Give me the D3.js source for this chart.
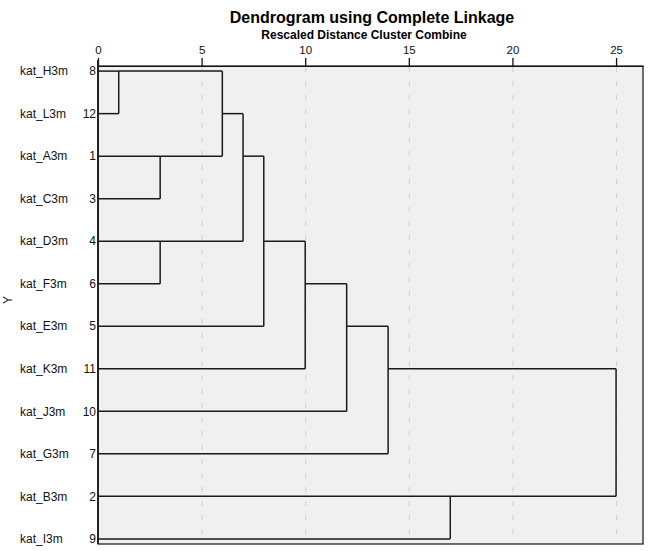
<!DOCTYPE html>
<html><head><meta charset="utf-8">
<script src="https://cdn.jsdelivr.net/npm/d3@7"></script>
<style>body{margin:0;background:#fff}text{font-family:Arial,"Liberation Sans",sans-serif}</style>
</head><body><svg id="c" width="651" height="551"></svg>
<script>
// leaf order (top to bottom)
const labels = ["kat_H3m","kat_L3m","kat_A3m","kat_C3m","kat_D3m","kat_F3m","kat_E3m","kat_K3m","kat_J3m","kat_G3m","kat_B3m","kat_I3m"];
const caseNums = ["8","12","1","3","4","6","5","11","10","7","2","9"];
// merges: [left node, right node, rescaled distance]; leaves are 0..11, merged nodes 12..
const mergeLeft  = [0, 2, 4, 12, 15, 16, 17, 18, 19, 10, 20];
const mergeRight = [1, 3, 5, 13, 14, 6, 7, 8, 9, 11, 21];
const mergeDist  = [1, 3, 3, 6, 7, 8, 10, 12, 14, 17, 25];
const ticks = [0,5,10,15,20,25];

const svg = d3.select("#c");
const L = 98, R = 643, T = 66, B = 544;
const x = d3.scaleLinear().domain([0, 26.3]).range([L, R]);
const y = d3.scalePoint().domain(d3.range(labels.length)).range([T, B]).padding(0.12);

svg.append("rect").attr("x", L).attr("y", T).attr("width", R - L).attr("height", B - T)
  .attr("fill", "#f0f0f0").attr("stroke", "#111").attr("stroke-width", 1.2);

// grid
svg.selectAll(".g").data(ticks.filter(t => t > 0)).join("line")
  .attr("x1", d => x(d) + 0.5).attr("x2", d => x(d) + 0.5).attr("y1", T + 1).attr("y2", B - 1)
  .attr("stroke", "#cfcfcf").attr("stroke-dasharray", "5,9");

// top axis
const ax = svg.append("g").attr("transform", `translate(0,${T})`)
  .call(d3.axisTop(x).tickValues(ticks).tickSize(8).tickSizeOuter(0));
ax.select(".domain").attr("stroke", "#111").attr("stroke-width", 1.2);
ax.selectAll(".tick line").attr("stroke", "#111").attr("stroke-width", 1.3);
ax.selectAll(".tick text").attr("font-size", 11.5).attr("fill", "#111").attr("dy", "-0.1em");

// left axis line (thicker)
svg.append("line").attr("x1", L).attr("x2", L).attr("y1", T - 6).attr("y2", B)
  .attr("stroke", "#222").attr("stroke-width", 2);

// compute node positions
const rowOf = labels.map((_, i) => i);
const distOf = labels.map(() => 0);
const lines = [];
mergeLeft.forEach((a, k) => {
  const b = mergeRight[k], d = mergeDist[k];
  [a, b].forEach(n => lines.push([[x(distOf[n]), y(rowOf[n])], [x(d), y(rowOf[n])]]));
  lines.push([[x(d), y(rowOf[a])], [x(d), y(rowOf[b])]]);
  rowOf.push(Math.floor((rowOf[a] + rowOf[b]) / 2));
  distOf.push(d);
});
svg.append("g").selectAll("path").data(lines).join("path")
  .attr("d", d => d3.line()(d)).attr("fill", "none")
  .attr("stroke", "#1a1a1a").attr("stroke-width", 1.5);

// labels
svg.selectAll(".lab").data(labels).join("text")
  .attr("x", 20).attr("y", (d, i) => y(i)).attr("dy", "0.35em")
  .attr("font-size", 12).attr("fill", "#111").text(d => d);
svg.selectAll(".num").data(caseNums).join("text")
  .attr("x", 96).attr("y", (d, i) => y(i)).attr("dy", "0.35em").attr("text-anchor", "end")
  .attr("font-size", 12).attr("fill", "#111").text(d => d);

svg.append("text").attr("transform", "translate(12,300) rotate(-90)").attr("text-anchor", "middle")
  .attr("font-size", 12).attr("fill", "#111").text("Y");

svg.append("text").attr("x", 372).attr("y", 23).attr("text-anchor", "middle")
  .attr("font-size", 16).attr("font-weight", "bold").attr("fill", "#000").text("Dendrogram using Complete Linkage");
svg.append("text").attr("x", 364).attr("y", 39).attr("text-anchor", "middle")
  .attr("font-size", 12).attr("font-weight", "bold").attr("fill", "#000").text("Rescaled Distance Cluster Combine");
</script></body></html>
